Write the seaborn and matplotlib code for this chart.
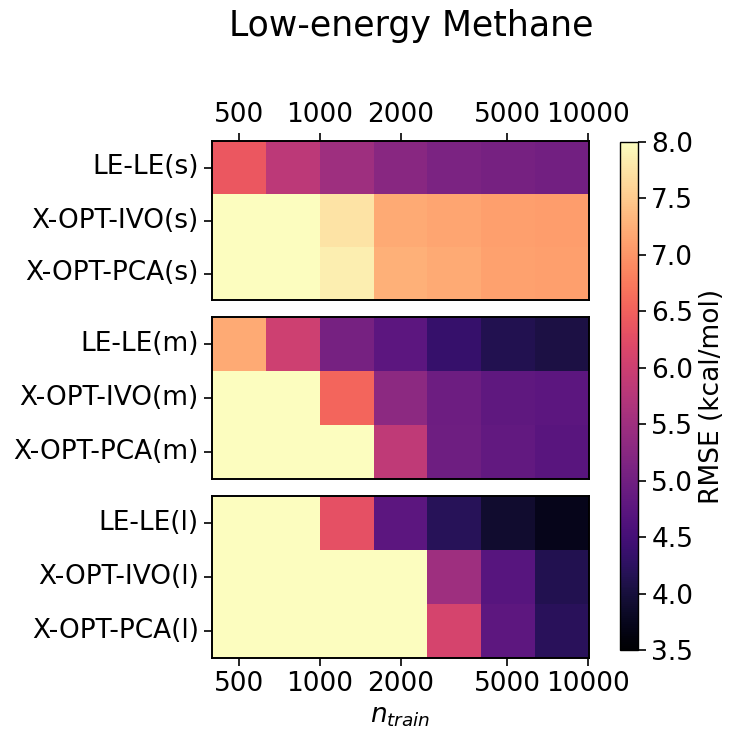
"""
Low-energy Methane learning-curve heatmaps (RMSE vs. training set size).
"""

import numpy as np
import pandas as pd
import matplotlib
matplotlib.use("Agg")
import matplotlib.pyplot as plt
import seaborn as sns

# ── Data ──────────────────────────────────────────────────────────────────────
N_TRAIN = [500, 800, 1250, 2000, 3200, 5000, 8000]
TICK_VALUES = [500, 1000, 2000, 5000, 10000]

ROWS_S = ["LE-LE(s)", "X-OPT-IVO(s)", "X-OPT-PCA(s)"]
ROWS_M = ["LE-LE(m)", "X-OPT-IVO(m)", "X-OPT-PCA(m)"]
ROWS_L = ["LE-LE(l)", "X-OPT-IVO(l)", "X-OPT-PCA(l)"]

RMSE_S = [
    [6.40, 5.82, 5.50, 5.25, 5.10, 5.05, 5.00],
    [9.50, 8.60, 7.75, 7.20, 7.15, 7.10, 7.08],
    [9.60, 8.80, 7.85, 7.25, 7.20, 7.12, 7.10],
]
RMSE_M = [
    [7.20, 6.00, 5.05, 4.75, 4.35, 4.15, 4.05],
    [10.2, 9.10, 6.55, 5.30, 4.95, 4.80, 4.75],
    [11.0, 9.80, 8.40, 5.85, 4.97, 4.82, 4.72],
]
RMSE_L = [
    [10.5, 9.40, 6.30, 4.75, 4.20, 3.90, 3.72],
    [12.0, 11.0, 9.60, 8.30, 5.50, 4.70, 4.15],
    [12.5, 11.5, 9.90, 8.50, 6.10, 4.77, 4.22],
]

VMIN, VMAX = 3.5, 8.0
FS = 19

# ── Plot ──────────────────────────────────────────────────────────────────────
sns.set_style("white")
plt.rcParams["font.family"] = ["DejaVu Sans"]
plt.rcParams["text.color"] = "black"
plt.rcParams["xtick.color"] = "black"
plt.rcParams["ytick.color"] = "black"
plt.rcParams["axes.labelcolor"] = "black"

fig = plt.figure(figsize=(7.31, 7.35), dpi=100)
W, H = 731, 735


def px_axes(x0, y0, x1, y1):
    return fig.add_axes([x0 / W, 1 - y1 / H, (x1 - x0) / W, (y1 - y0) / H])


ax_s = px_axes(212, 141, 589, 300)
ax_m = px_axes(212, 317, 589, 479)
ax_l = px_axes(212, 496, 589, 658)
cax = px_axes(620, 142, 638, 650)

# tick positions in cell coordinates (columns are log2-spaced, 1.5 per doubling)
tick_pos = [0.5 + 1.5 * np.log2(v / 500) for v in TICK_VALUES]

panels = [(ax_s, ROWS_S, RMSE_S), (ax_m, ROWS_M, RMSE_M), (ax_l, ROWS_L, RMSE_L)]
for i, (ax, rows, vals) in enumerate(panels):
    df = pd.DataFrame(vals, index=rows, columns=N_TRAIN)
    sns.heatmap(df, ax=ax, cmap="magma", vmin=VMIN, vmax=VMAX,
                cbar=(i == 0), cbar_ax=cax if i == 0 else None,
                cbar_kws={"ticks": np.arange(3.5, 8.01, 0.5)})
    for sp in ax.spines.values():
        sp.set_visible(True)
        sp.set_color("black")
        sp.set_linewidth(1.4)
    ax.set_yticks(np.arange(len(rows)) + 0.5)
    ax.set_yticklabels(rows, rotation=0, fontsize=FS)
    ax.tick_params(axis="y", left=True, length=6, width=1.2)
    ax.set_xticks(tick_pos)
    ax.set_xticklabels([str(v) for v in TICK_VALUES], rotation=0, fontsize=FS)
    ax.set_xlim(0, len(N_TRAIN))
    ax.set_ylabel("")
    ax.set_xlabel("")
    if i == 0:
        ax.tick_params(axis="x", top=True, labeltop=True, bottom=False,
                       labelbottom=False, length=6, width=1.2)
    elif i == 1:
        ax.tick_params(axis="x", top=False, labeltop=False, bottom=False,
                       labelbottom=False)
    else:
        ax.tick_params(axis="x", bottom=True, labelbottom=True, length=6, width=1.2)
        ax.set_xlabel(r"$n_{train}$", fontsize=FS)

cbar = ax_s.collections[0].colorbar
cbar.ax.tick_params(labelsize=FS, length=6, width=1.2)
cbar.set_ticklabels([f"{t:.1f}" for t in np.arange(3.5, 8.01, 0.5)])
cbar.set_label("RMSE (kcal/mol)", fontsize=FS)
cbar.outline.set_visible(True)
cbar.outline.set_edgecolor("black")
cbar.outline.set_linewidth(1)

fig.text(0.563, 0.965, "Low-energy Methane", ha="center", va="center", fontsize=25)

fig.savefig("out.png", dpi=100)
plt.close(fig)
